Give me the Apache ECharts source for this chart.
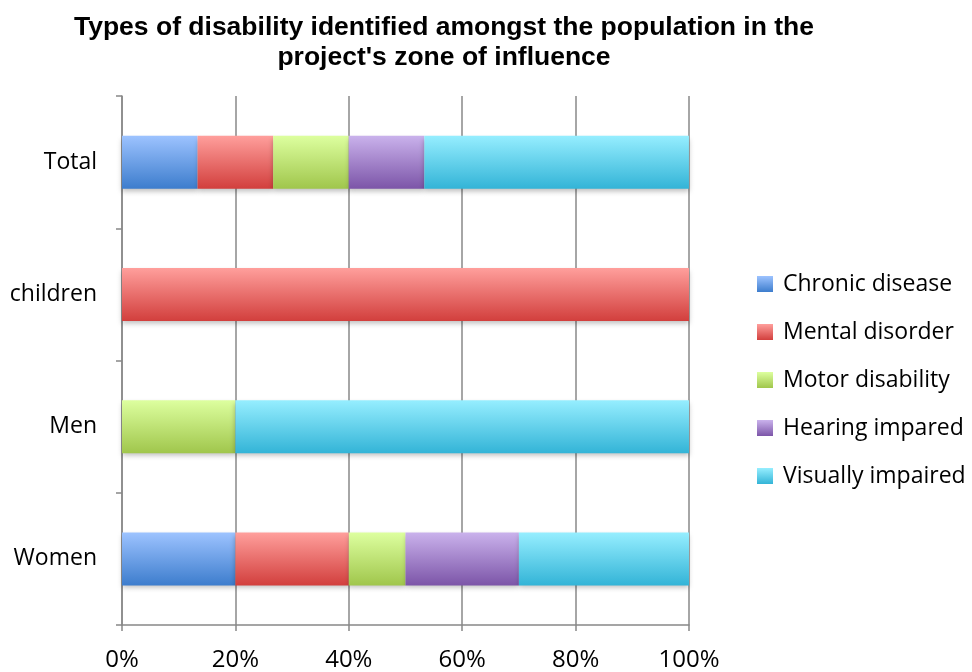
<!DOCTYPE html>
<html>
<head>
<meta charset="utf-8">
<script src="https://cdn.jsdelivr.net/npm/echarts@6/dist/echarts.min.js"></script>
<style>
  html, body { margin: 0; padding: 0; background: #fff; }
  #chart { width: 972px; height: 672px; }
</style>
</head>
<body>
<div id="chart"></div>
<script>
// Population groups, listed bottom to top on the category axis
const groups = ['Women', 'Men', 'children', 'Total'];

// Share of each disability type within each group (%)
const chronicDisease   = [20, 0, 0, 13.33];
const mentalDisorder   = [20, 0, 100, 13.33];
const motorDisability  = [10, 20, 0, 13.33];
const hearingImpared   = [20, 0, 0, 13.33];
const visuallyImpaired = [30, 80, 0, 46.67];

const xTicks = [0, 20, 40, 60, 80, 100];

const seriesDefs = [
  { name: 'Chronic disease',   data: chronicDisease,   top: '#9dc3ff', bottom: '#3d7dcd' },
  { name: 'Mental disorder',   data: mentalDisorder,   top: '#ff9f9c', bottom: '#d23f3d' },
  { name: 'Motor disability',  data: motorDisability,  top: '#ddff9f', bottom: '#a0c64c' },
  { name: 'Hearing impared',   data: hearingImpared,   top: '#cab2ec', bottom: '#7c55a8' },
  { name: 'Visually impaired', data: visuallyImpaired, top: '#96eeff', bottom: '#33b4d7' }
];

function grad(top, bottom) {
  return new echarts.graphic.LinearGradient(0, 0, 0, 1, [
    { offset: 0, color: top },
    { offset: 1, color: bottom }
  ]);
}

const chart = echarts.init(document.getElementById('chart'), null, { renderer: 'canvas' });

const labelFont = "'Open Sans', 'Noto Sans', sans-serif";

chart.setOption({
  animation: false,
  backgroundColor: '#ffffff',
  title: {
    text: "Types of disability identified amongst the population in the\nproject's zone of influence",
    left: 439,
    top: 8,
    textAlign: 'center',
    textStyle: {
      fontFamily: "'Liberation Sans', Arial, sans-serif",
      fontWeight: 'bold',
      fontSize: 26.5,
      lineHeight: 30,
      color: '#000'
    }
  },
  legend: {
    orient: 'vertical',
    left: 752,
    top: 267,
    itemWidth: 16,
    itemHeight: 16,
    itemGap: 24,
    icon: 'rect',
    textStyle: {
      fontFamily: labelFont,
      fontSize: 23,
      lineHeight: 24,
      color: '#000',
      padding: [0, 0, 0, 5]
    },
    data: seriesDefs.map(s => ({ name: s.name, itemStyle: { color: grad(s.top, s.bottom) } }))
  },
  grid: {
    left: 122,
    top: 96,
    width: 567,
    height: 530
  },
  xAxis: {
    type: 'value',
    min: 0,
    max: 100,
    interval: 20,
    axisLine: { show: true, lineStyle: { color: '#888', width: 1.5 } },
    axisTick: { show: true, length: 6, lineStyle: { color: '#888', width: 1.5 } },
    splitLine: { show: true, lineStyle: { color: '#888', width: 1.5 } },
    axisLabel: {
      fontFamily: labelFont,
      fontSize: 24,
      color: '#000',
      margin: 23,
      formatter: v => (xTicks.includes(v) ? v + '%' : '')
    }
  },
  yAxis: {
    type: 'category',
    data: groups,
    axisLine: { show: true, lineStyle: { color: '#888', width: 1.5 } },
    axisTick: { show: true, length: 6, lineStyle: { color: '#888', width: 1.5 } },
    axisLabel: {
      fontFamily: labelFont,
      fontSize: 23,
      color: '#000',
      margin: 25
    }
  },
  series: seriesDefs.map(s => ({
    name: s.name,
    type: 'bar',
    stack: 'share',
    barWidth: 53,
    data: s.data,
    itemStyle: {
      color: grad(s.top, s.bottom),
      shadowColor: 'rgba(0,0,0,0.25)',
      shadowBlur: 5,
      shadowOffsetY: 3
    }
  }))
});
</script>
</body>
</html>
